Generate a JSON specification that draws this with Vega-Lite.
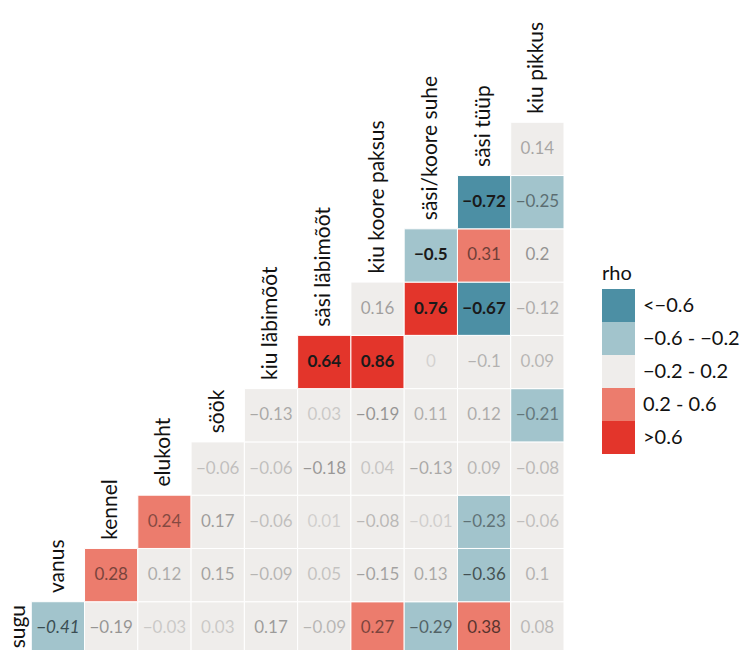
{
  "$schema": "https://vega.github.io/schema/vega-lite/v6.json",
  "autosize": {"type": "none"},
  "padding": {"left": -22, "top": 69, "right": 181, "bottom": 0},
  "width": 586,
  "height": 586,
  "background": "white",
  "config": {
    "view": {"stroke": null},
    "font": "Lato",
    "text": {"font": "Lato"}
  },
  "datasets": {
    "cells": [
      {"row": "sugu", "col": "vanus", "rho": -0.41, "sig": "i"},
      {"row": "sugu", "col": "kennel", "rho": -0.19, "sig": ""},
      {"row": "sugu", "col": "elukoht", "rho": -0.03, "sig": ""},
      {"row": "sugu", "col": "söök", "rho": 0.03, "sig": ""},
      {"row": "sugu", "col": "kiu läbimõõt", "rho": 0.17, "sig": ""},
      {"row": "sugu", "col": "säsi läbimõõt", "rho": -0.09, "sig": ""},
      {"row": "sugu", "col": "kiu koore paksus", "rho": 0.27, "sig": ""},
      {"row": "sugu", "col": "säsi/koore suhe", "rho": -0.29, "sig": ""},
      {"row": "sugu", "col": "säsi tüüp", "rho": 0.38, "sig": ""},
      {"row": "sugu", "col": "kiu pikkus", "rho": 0.08, "sig": ""},
      {"row": "vanus", "col": "kennel", "rho": 0.28, "sig": ""},
      {"row": "vanus", "col": "elukoht", "rho": 0.12, "sig": ""},
      {"row": "vanus", "col": "söök", "rho": 0.15, "sig": ""},
      {"row": "vanus", "col": "kiu läbimõõt", "rho": -0.09, "sig": ""},
      {"row": "vanus", "col": "säsi läbimõõt", "rho": 0.05, "sig": ""},
      {"row": "vanus", "col": "kiu koore paksus", "rho": -0.15, "sig": ""},
      {"row": "vanus", "col": "säsi/koore suhe", "rho": 0.13, "sig": ""},
      {"row": "vanus", "col": "säsi tüüp", "rho": -0.36, "sig": ""},
      {"row": "vanus", "col": "kiu pikkus", "rho": 0.1, "sig": ""},
      {"row": "kennel", "col": "elukoht", "rho": 0.24, "sig": ""},
      {"row": "kennel", "col": "söök", "rho": 0.17, "sig": ""},
      {"row": "kennel", "col": "kiu läbimõõt", "rho": -0.06, "sig": ""},
      {"row": "kennel", "col": "säsi läbimõõt", "rho": 0.01, "sig": ""},
      {"row": "kennel", "col": "kiu koore paksus", "rho": -0.08, "sig": ""},
      {"row": "kennel", "col": "säsi/koore suhe", "rho": -0.01, "sig": ""},
      {"row": "kennel", "col": "säsi tüüp", "rho": -0.23, "sig": ""},
      {"row": "kennel", "col": "kiu pikkus", "rho": -0.06, "sig": ""},
      {"row": "elukoht", "col": "söök", "rho": -0.06, "sig": ""},
      {"row": "elukoht", "col": "kiu läbimõõt", "rho": -0.06, "sig": ""},
      {"row": "elukoht", "col": "säsi läbimõõt", "rho": -0.18, "sig": ""},
      {"row": "elukoht", "col": "kiu koore paksus", "rho": 0.04, "sig": ""},
      {"row": "elukoht", "col": "säsi/koore suhe", "rho": -0.13, "sig": ""},
      {"row": "elukoht", "col": "säsi tüüp", "rho": 0.09, "sig": ""},
      {"row": "elukoht", "col": "kiu pikkus", "rho": -0.08, "sig": ""},
      {"row": "söök", "col": "kiu läbimõõt", "rho": -0.13, "sig": ""},
      {"row": "söök", "col": "säsi läbimõõt", "rho": 0.03, "sig": ""},
      {"row": "söök", "col": "kiu koore paksus", "rho": -0.19, "sig": ""},
      {"row": "söök", "col": "säsi/koore suhe", "rho": 0.11, "sig": ""},
      {"row": "söök", "col": "säsi tüüp", "rho": 0.12, "sig": ""},
      {"row": "söök", "col": "kiu pikkus", "rho": -0.21, "sig": ""},
      {"row": "kiu läbimõõt", "col": "säsi läbimõõt", "rho": 0.64, "sig": "b"},
      {"row": "kiu läbimõõt", "col": "kiu koore paksus", "rho": 0.86, "sig": "b"},
      {"row": "kiu läbimõõt", "col": "säsi/koore suhe", "rho": 0, "sig": ""},
      {"row": "kiu läbimõõt", "col": "säsi tüüp", "rho": -0.1, "sig": ""},
      {"row": "kiu läbimõõt", "col": "kiu pikkus", "rho": 0.09, "sig": ""},
      {"row": "säsi läbimõõt", "col": "kiu koore paksus", "rho": 0.16, "sig": ""},
      {"row": "säsi läbimõõt", "col": "säsi/koore suhe", "rho": 0.76, "sig": "b"},
      {"row": "säsi läbimõõt", "col": "säsi tüüp", "rho": -0.67, "sig": "b"},
      {"row": "säsi läbimõõt", "col": "kiu pikkus", "rho": -0.12, "sig": ""},
      {"row": "kiu koore paksus", "col": "säsi/koore suhe", "rho": -0.5, "sig": "b"},
      {"row": "kiu koore paksus", "col": "säsi tüüp", "rho": 0.31, "sig": ""},
      {"row": "kiu koore paksus", "col": "kiu pikkus", "rho": 0.2, "sig": ""},
      {"row": "säsi/koore suhe", "col": "säsi tüüp", "rho": -0.72, "sig": "b"},
      {"row": "säsi/koore suhe", "col": "kiu pikkus", "rho": -0.25, "sig": ""},
      {"row": "säsi tüüp", "col": "kiu pikkus", "rho": 0.14, "sig": ""}
    ],
    "labels": [
      {"var": "sugu"},
      {"var": "vanus"},
      {"var": "kennel"},
      {"var": "elukoht"},
      {"var": "söök"},
      {"var": "kiu läbimõõt"},
      {"var": "säsi läbimõõt"},
      {"var": "kiu koore paksus"},
      {"var": "säsi/koore suhe"},
      {"var": "säsi tüüp"},
      {"var": "kiu pikkus"}
    ]
  },
  "layer": [
    {
      "data": {"name": "cells"},
      "transform": [
        {"calculate": "datum.rho < -0.6 ? '<−0.6' : datum.rho < -0.2 ? '−0.6 - −0.2' : datum.rho <= 0.2 ? '−0.2 - 0.2' : datum.rho <= 0.6 ? '0.2 - 0.6' : '>0.6'", "as": "cat"}
      ],
      "mark": {"type": "rect", "stroke": "white", "strokeWidth": 1},
      "encoding": {
        "x": {"field": "col", "type": "nominal", "scale": {"domain": ["sugu", "vanus", "kennel", "elukoht", "söök", "kiu läbimõõt", "säsi läbimõõt", "kiu koore paksus", "säsi/koore suhe", "säsi tüüp", "kiu pikkus"], "paddingInner": 0, "paddingOuter": 0}, "axis": null},
        "y": {"field": "row", "type": "nominal", "scale": {"domain": ["kiu pikkus", "säsi tüüp", "säsi/koore suhe", "kiu koore paksus", "säsi läbimõõt", "kiu läbimõõt", "söök", "elukoht", "kennel", "vanus", "sugu"], "paddingInner": 0, "paddingOuter": 0}, "axis": null},
        "color": {
          "field": "cat", "type": "nominal",
          "scale": {"domain": ["<−0.6", "−0.6 - −0.2", "−0.2 - 0.2", "0.2 - 0.6", ">0.6"], "range": ["#4C8FA4", "#A2C4CC", "#EFEDEB", "#EC7C6D", "#E3352B"]},
          "legend": {
            "title": "rho", "orient": "none", "legendX": 624, "legendY": 195,
            "titleFont": "Lato", "titleFontSize": 20, "titleFontWeight": "normal", "titleColor": "#111", "titlePadding": 5,
            "labelFont": "Lato", "labelFontSize": 20, "labelColor": "#111", "labelOffset": 8,
            "symbolType": "square", "symbolSize": 1089, "symbolStrokeWidth": 0, "symbolOpacity": 1,
            "rowPadding": 0
          }
        }
      }
    },
    {
      "data": {"name": "cells"},
      "transform": [
        {"filter": "datum.sig === ''"},
        {"calculate": "abs(datum.rho)", "as": "absrho"}
      ],
      "mark": {"type": "text", "font": "Lato", "fontSize": 17, "color": "#111"},
      "encoding": {
        "x": {"field": "col", "type": "nominal"},
        "y": {"field": "row", "type": "nominal"},
        "text": {"field": "rho", "type": "quantitative", "format": ".2~f"},
        "opacity": {"field": "absrho", "type": "quantitative", "scale": {"domain": [0, 0.6], "range": [0.12, 1], "clamp": true}, "legend": null}
      }
    },
    {
      "data": {"name": "cells"},
      "transform": [
        {"filter": "datum.sig === 'b'"}
      ],
      "mark": {"type": "text", "font": "Lato", "fontSize": 17, "fontWeight": "bold", "color": "#1a1a1a"},
      "encoding": {
        "x": {"field": "col", "type": "nominal"},
        "y": {"field": "row", "type": "nominal"},
        "text": {"field": "rho", "type": "quantitative", "format": ".2~f"}
      }
    },
    {
      "data": {"name": "cells"},
      "transform": [
        {"filter": "datum.sig === 'i'"}
      ],
      "mark": {"type": "text", "font": "Lato", "fontSize": 17, "fontStyle": "italic", "color": "#3a4d52"},
      "encoding": {
        "x": {"field": "col", "type": "nominal"},
        "y": {"field": "row", "type": "nominal"},
        "text": {"field": "rho", "type": "quantitative", "format": ".2~f"}
      }
    },
    {
      "data": {"name": "labels"},
      "transform": [{"filter": "datum.var !== 'sugu'"}],
      "mark": {"type": "text", "font": "Lato", "fontSize": 21, "color": "#111", "angle": 270, "align": "left", "baseline": "middle", "dx": -18},
      "encoding": {
        "x": {"field": "var", "type": "nominal"},
        "y": {"field": "var", "type": "nominal"},
        "text": {"field": "var", "type": "nominal"}
      }
    },
    {
      "data": {"name": "labels"},
      "transform": [{"filter": "datum.var === 'sugu'"}],
      "mark": {"type": "text", "font": "Lato", "fontSize": 21, "color": "#111", "angle": 270, "align": "left", "baseline": "middle", "dx": -20, "dy": 14},
      "encoding": {
        "x": {"field": "var", "type": "nominal"},
        "y": {"field": "var", "type": "nominal"},
        "text": {"field": "var", "type": "nominal"}
      }
    }
  ]
}
